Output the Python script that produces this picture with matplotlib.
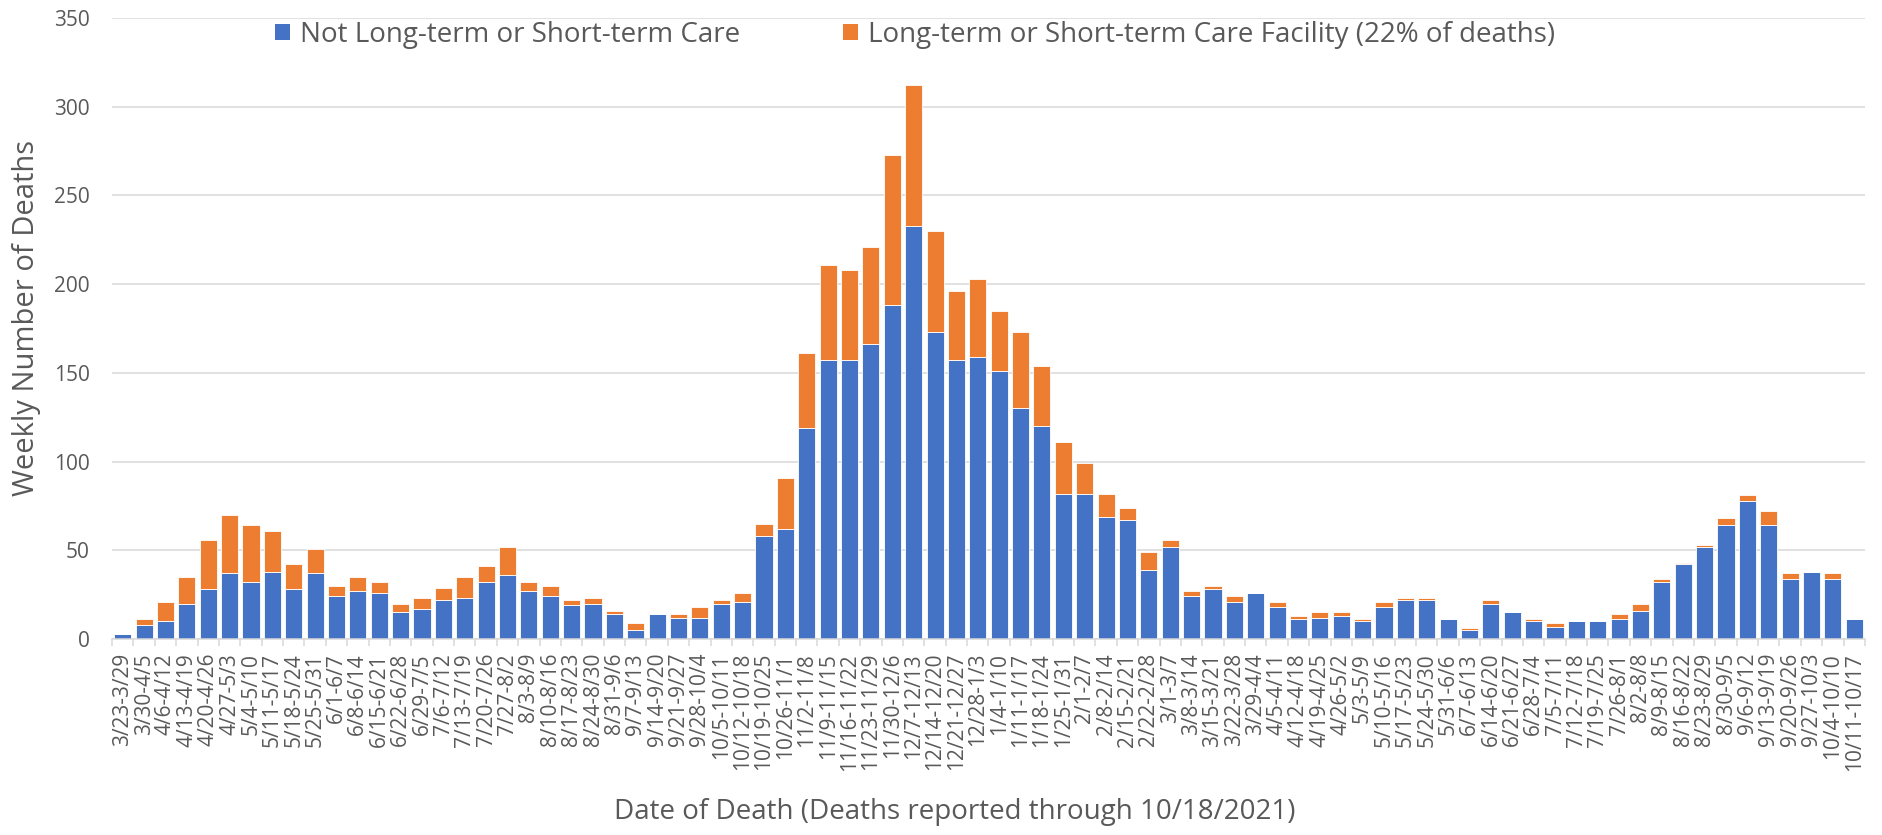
import matplotlib
matplotlib.use("Agg")
import matplotlib.pyplot as plt
import numpy as np
from matplotlib.patches import Patch
from matplotlib.ticker import FixedLocator

weeks = ["3/23-3/29", "3/30-4/5", "4/6-4/12", "4/13-4/19", "4/20-4/26", "4/27-5/3",
         "5/4-5/10", "5/11-5/17", "5/18-5/24", "5/25-5/31", "6/1-6/7", "6/8-6/14",
         "6/15-6/21", "6/22-6/28", "6/29-7/5", "7/6-7/12", "7/13-7/19", "7/20-7/26",
         "7/27-8/2", "8/3-8/9", "8/10-8/16", "8/17-8/23", "8/24-8/30", "8/31-9/6",
         "9/7-9/13", "9/14-9/20", "9/21-9/27", "9/28-10/4", "10/5-10/11", "10/12-10/18",
         "10/19-10/25", "10/26-11/1", "11/2-11/8", "11/9-11/15", "11/16-11/22",
         "11/23-11/29", "11/30-12/6", "12/7-12/13", "12/14-12/20", "12/21-12/27",
         "12/28-1/3", "1/4-1/10", "1/11-1/17", "1/18-1/24", "1/25-1/31", "2/1-2/7",
         "2/8-2/14", "2/15-2/21", "2/22-2/28", "3/1-3/7", "3/8-3/14", "3/15-3/21",
         "3/22-3/28", "3/29-4/4", "4/5-4/11", "4/12-4/18", "4/19-4/25", "4/26-5/2",
         "5/3-5/9", "5/10-5/16", "5/17-5/23", "5/24-5/30", "5/31-6/6", "6/7-6/13",
         "6/14-6/20", "6/21-6/27", "6/28-7/4", "7/5-7/11", "7/12-7/18", "7/19-7/25",
         "7/26-8/1", "8/2-8/8", "8/9-8/15", "8/16-8/22", "8/23-8/29", "8/30-9/5",
         "9/6-9/12", "9/13-9/19", "9/20-9/26", "9/27-10/3", "10/4-10/10", "10/11-10/17"]

not_ltc = [3, 8, 10, 20, 28, 37, 32, 38, 28, 37, 24, 27, 26, 15, 17, 22, 23, 32, 36, 27,
           24, 19, 20, 14, 5, 14, 12, 12, 20, 21, 58, 62, 119, 157, 157, 166, 188, 233, 173, 157,
           159, 151, 130, 120, 82, 82, 69, 67, 39, 52, 24, 28, 21, 26, 18, 11, 12, 13, 10, 18,
           22, 22, 11, 5, 20, 15, 10, 7, 10, 10, 11, 16, 32, 42, 52, 64, 78, 64, 34, 38,
           34, 11]

total = [3, 11, 21, 35, 56, 70, 64, 61, 42, 51, 30, 35, 32, 20, 23, 29, 35, 41, 52, 32,
         30, 22, 23, 16, 9, 14, 14, 18, 22, 26, 65, 91, 161, 211, 208, 221, 273, 312, 230, 196,
         203, 185, 173, 154, 111, 99, 82, 74, 49, 56, 27, 30, 24, 26, 21, 13, 15, 15, 11, 21,
         23, 23, 11, 6, 22, 15, 11, 9, 10, 10, 14, 20, 34, 43, 53, 68, 81, 72, 37, 38,
         37, 11]

ltc = [t - n for t, n in zip(total, not_ltc)]

series_labels = ["Not Long-term or Short-term Care",
                 "Long-term or Short-term Care Facility (22% of deaths)"]
y_ticks = [0, 50, 100, 150, 200, 250, 300, 350]

BLUE = "#4472C4"
ORANGE = "#ED7D31"
GRID = "#D9D9D9"
TXT = "#595959"

plt.rcParams['font.family'] = ['Open Sans', 'DejaVu Sans']

fig = plt.figure(figsize=(18.83, 8.35), dpi=100)
ax = fig.add_axes([112 / 1883, 1 - 639 / 835, (1865 - 112) / 1883, (639 - 18) / 835])

x = np.arange(len(weeks))
ax.bar(x, not_ltc, width=0.8, color=BLUE, edgecolor="white", linewidth=0.6, zorder=3)
ax.bar(x, ltc, bottom=not_ltc, width=0.8, color=ORANGE, edgecolor="white", linewidth=0.6, zorder=3)

ax.set_xlim(-0.5, len(weeks) - 0.5)
ax.set_ylim(0, 350)
ax.set_yticks(y_ticks)
ax.yaxis.grid(True, color=GRID, linewidth=1.1, zorder=0)
ax.set_axisbelow(True)

ax.set_xticks(x)
ax.set_xticklabels(weeks, rotation=90, fontsize=15, color=TXT)
ax.xaxis.set_minor_locator(FixedLocator(np.arange(-0.5, len(weeks), 1.0)))
ax.tick_params(axis='x', which='major', length=0, pad=10)
ax.tick_params(axis='x', which='minor', length=5, width=1.1, color=GRID)
ax.tick_params(axis='y', length=0, pad=16, labelsize=15, labelcolor=TXT)

for s in ['top', 'right', 'left']:
    ax.spines[s].set_visible(False)
ax.spines['bottom'].set_color(GRID)
ax.spines['bottom'].set_linewidth(1.1)
ax.spines['bottom'].set_zorder(4)

fig.text(27 / 1883, 1 - 318 / 835, "Weekly Number of Deaths", rotation=90,
         ha='center', va='center', fontsize=21, color=TXT)
fig.text(955 / 1883, 1 - 812 / 835, "Date of Death (Deaths reported through 10/18/2021)",
         ha='center', va='center', fontsize=20, color=TXT)

handles = [Patch(facecolor=BLUE, edgecolor='none'), Patch(facecolor=ORANGE, edgecolor='none')]
leg = fig.legend(handles, series_labels, loc='center', bbox_to_anchor=(915 / 1883, 1 - 35 / 835),
                 ncol=2, frameon=False, fontsize=20, handlelength=0.54, handleheight=0.54,
                 handletextpad=0.36, columnspacing=3.7, borderpad=0)
for t in leg.get_texts():
    t.set_color(TXT)

fig.savefig("out.png", dpi=100)
